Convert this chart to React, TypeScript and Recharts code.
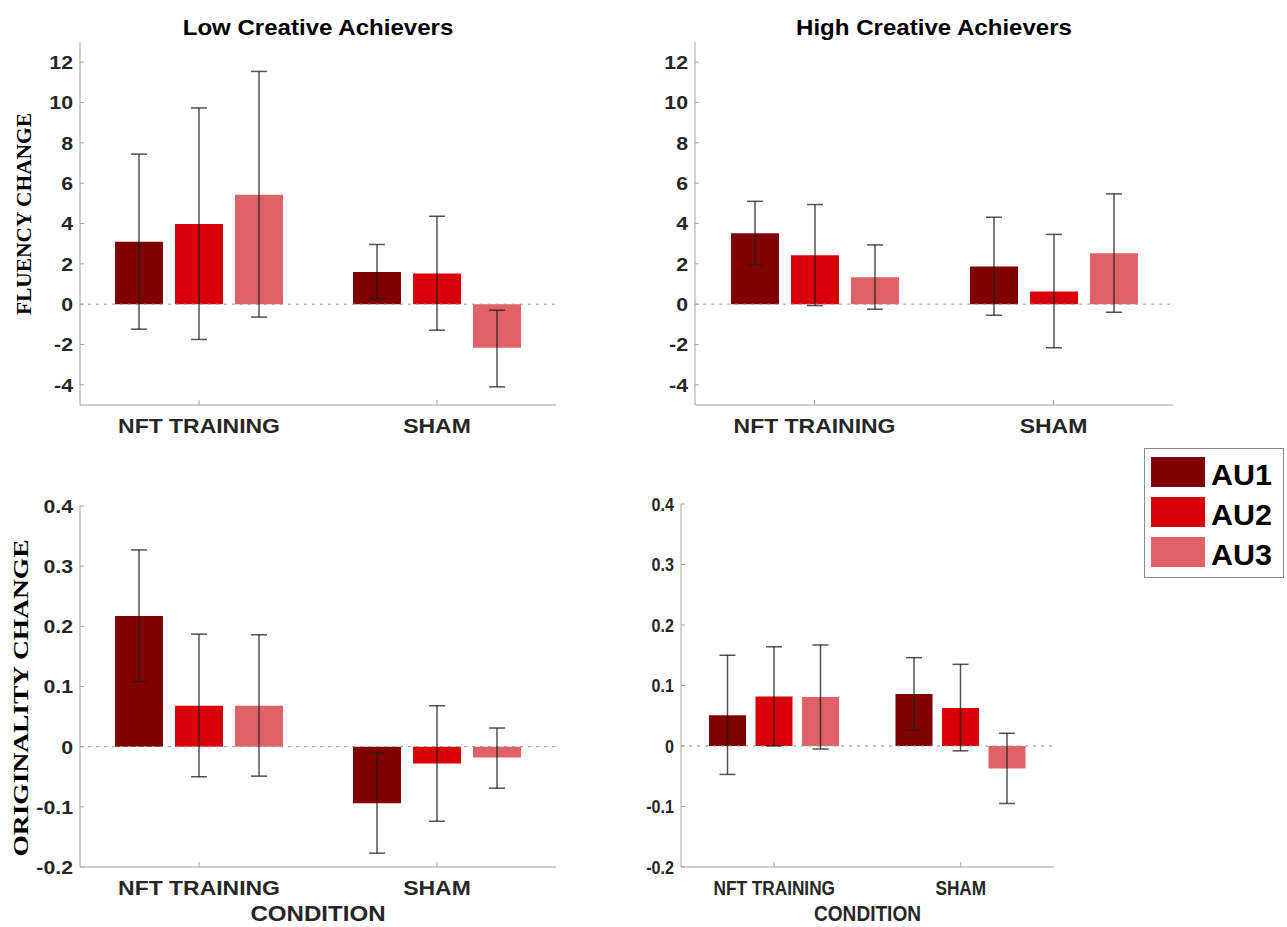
import React from 'react';
import { BarChart, Bar, XAxis, YAxis, ErrorBar, ReferenceLine, Legend } from 'recharts';

// ---------- data ----------
const conditions = ['NFT TRAINING', 'SHAM'];
const seriesNames = ['AU1', 'AU2', 'AU3'];
const seriesColors = ['#800000', '#D90008', '#E06266'];

const fluencyTicks = [-4, -2, 0, 2, 4, 6, 8, 10, 12];
const fluencyDomain = [-5, 13];
const originalityTicks = [-0.2, -0.1, 0, 0.1, 0.2, 0.3, 0.4];
const originalityDomain = [-0.2, 0.4];

// rows: AU1, AU2, AU3 ; columns: NFT TRAINING, SHAM
const fluLowMean = [[3.09, 1.6], [3.97, 1.52], [5.42, -2.16]];
const fluLowLower = [[-1.24, 0.28], [-1.75, -1.29], [-0.64, -4.1]];
const fluLowUpper = [[7.44, 2.96], [9.73, 4.36], [11.54, -0.3]];

const fluHighMean = [[3.52, 1.87], [2.43, 0.63], [1.34, 2.52]];
const fluHighLower = [[1.93, -0.55], [-0.07, -2.16], [-0.25, -0.4]];
const fluHighUpper = [[5.1, 4.31], [4.94, 3.46], [2.94, 5.47]];

const origLowMean = [[0.217, -0.094], [0.068, -0.028], [0.068, -0.018]];
const origLowLower = [[0.108, -0.177], [-0.05, -0.124], [-0.049, -0.069]];
const origLowUpper = [[0.327, -0.011], [0.187, 0.068], [0.186, 0.031]];

const origHighMean = [[0.051, 0.086], [0.082, 0.063], [0.081, -0.037]];
const origHighLower = [[-0.047, 0.026], [0.0, -0.008], [-0.005, -0.095]];
const origHighUpper = [[0.15, 0.146], [0.164, 0.135], [0.167, 0.021]];

const panelTitles = ['Low Creative Achievers', 'High Creative Achievers'];
const yTitles = ['FLUENCY CHANGE', 'ORIGINALITY CHANGE'];
const xTitle = 'CONDITION';

// ---------- helpers ----------
const SANS = "'Liberation Sans', Arial, Helvetica, sans-serif";
const SERIF = "'Liberation Serif', 'Times New Roman', serif";
const AXIS = '#a3a3a3';
const TICKTXT = '#262626';

function buildRows(mean: number[][], lower: number[][], upper: number[][]) {
  return conditions.map((c, j) => {
    const row: any = { cond: c };
    seriesNames.forEach((s, i) => {
      row[s] = mean[i][j];
      row['err' + s] = [mean[i][j] - lower[i][j], upper[i][j] - mean[i][j]];
    });
    return row;
  });
}

const fmt = (v: number) => String(Math.round(v * 1000) / 1000);

const makeYTick = (sx: number) => (props: any) => {
  const { x, y, payload } = props;
  return (
    <g>
      <line x1={x} y1={y} x2={x + 4} y2={y} stroke={AXIS} strokeWidth={1} />
      <g transform={`translate(${x - 7},${y}) scale(${sx},1)`}>
        <text x={0} y={0} dy="0.36em" textAnchor="end" fontSize={19} fontWeight="bold" fill={TICKTXT} fontFamily={SANS}>
          {fmt(payload.value)}
        </text>
      </g>
    </g>
  );
};

const makeXTick = (sx: number) => (props: any) => {
  const { x, y, payload } = props;
  return (
    <g>
      <line x1={x} y1={y} x2={x} y2={y - 5} stroke={AXIS} strokeWidth={1} />
      <g transform={`translate(${x},${y + 28}) scale(${sx},1)`}>
        <text x={0} y={0} textAnchor="middle" fontSize={20.5} fontWeight="bold" fill={TICKTXT} fontFamily={SANS}>
          {payload.value}
        </text>
      </g>
    </g>
  );
};

const renderLegend = (props: any) => {
  const payload = props.payload || [];
  return (
    <svg width={140} height={130} style={{ display: 'block' }}>
      <rect x={0.5} y={0.5} width={139} height={129} fill="#fff" stroke="#8c8c8c" strokeWidth={1} />
      {payload.map((p: any, i: number) => (
        <g key={p.value}>
          <rect x={7} y={9 + i * 40} width={54} height={30} fill={p.color} />
          <g transform={`translate(67,${37 + i * 40}) scale(1.05,1)`}>
            <text x={0} y={0} fontSize={29} fontWeight="bold" fill="#000" fontFamily={SANS}>
              {p.value}
            </text>
          </g>
        </g>
      ))}
    </svg>
  );
};

type PanelProps = {
  rows: any[];
  left: number;
  top: number;
  width: number;
  height: number;
  margin: any;
  xAxisHeight: number;
  domain: number[];
  ticks: number[];
  ySx: number;
  xSx: number;
  barSize: number;
  barGap: number;
  title?: { text: string; x: number; y: number };
  yLabel?: { text: string; x: number; y: number; len: number; fs: number };
  xLabel?: { text: string; x: number; y: number; sx: number };
  legend?: boolean;
};

function Panel(p: PanelProps) {
  const yLabelFn = () => (
    <g>
      {p.title && (
        <g transform={`translate(${p.title.x},${p.title.y}) scale(1.12,1)`}>
          <text x={0} y={0} textAnchor="middle" fontSize={21.5} fontWeight="bold" fill="#000" fontFamily={SANS}>
            {p.title.text}
          </text>
        </g>
      )}
      {p.yLabel && (
        <text
          x={p.yLabel.x}
          y={p.yLabel.y}
          transform={`rotate(-90 ${p.yLabel.x} ${p.yLabel.y})`}
          textAnchor="middle"
          dy="0.35em"
          fontSize={p.yLabel.fs}
          fontWeight="bold"
          fill="#000"
          fontFamily={SERIF}
          textLength={p.yLabel.len}
          lengthAdjust="spacingAndGlyphs"
        >
          {p.yLabel.text}
        </text>
      )}
    </g>
  );
  const xLabelFn = () =>
    p.xLabel ? (
      <g transform={`translate(${p.xLabel.x},${p.xLabel.y}) scale(${p.xLabel.sx},1)`}>
        <text x={0} y={0} textAnchor="middle" fontSize={21.5} fontWeight="bold" fill={TICKTXT} fontFamily={SANS}>
          {p.xLabel.text}
        </text>
      </g>
    ) : null;

  return (
    <div style={{ position: 'absolute', left: p.left, top: p.top, width: p.width, height: p.height }}>
      <BarChart width={p.width} height={p.height} data={p.rows} margin={p.margin} barGap={p.barGap}>
        <XAxis
          dataKey="cond"
          type="category"
          height={p.xAxisHeight}
          stroke={AXIS}
          tickLine={false}
          tickSize={0}
          tickMargin={0}
          interval={0}
          tick={makeXTick(p.xSx)}
          label={xLabelFn}
        />
        <YAxis
          type="number"
          width={60}
          domain={p.domain}
          ticks={p.ticks}
          allowDataOverflow
          stroke={AXIS}
          tickLine={false}
          tickSize={0}
          tickMargin={0}
          interval={0}
          tick={makeYTick(p.ySx)}
          label={yLabelFn}
        />
        <ReferenceLine y={0} stroke="#9a9a9a" strokeDasharray="3 5" strokeWidth={1} />
        {seriesNames.map((s, i) => (
          <Bar key={s} dataKey={s} name={s} fill={seriesColors[i]} barSize={p.barSize} isAnimationActive={false}>
            <ErrorBar
              dataKey={'err' + s}
              direction="y"
              width={8}
              stroke="#1a1a1a"
              strokeOpacity={0.75}
              strokeWidth={1.5}
              isAnimationActive={false}
            />
          </Bar>
        ))}
        {p.legend && (
          <Legend
            content={renderLegend}
            layout="horizontal"
            verticalAlign="middle"
            align="center"
            wrapperStyle={{ position: 'absolute', left: 1144 - p.left, top: 448 - p.top, width: 140, height: 130, margin: 0, padding: 0 }}
          />
        )}
      </BarChart>
    </div>
  );
}

export default function App() {
  const fluLowRows = buildRows(fluLowMean, fluLowLower, fluLowUpper);
  const fluHighRows = buildRows(fluHighMean, fluHighLower, fluHighUpper);
  const origLowRows = buildRows(origLowMean, origLowLower, origLowUpper);
  const origHighRows = buildRows(origHighMean, origHighLower, origHighUpper);

  return (
    <div style={{ position: 'absolute', left: 0, top: 0, width: 1287, height: 927, background: '#fff', overflow: 'hidden' }}>
      <Panel
        rows={fluLowRows}
        left={0}
        top={0}
        width={580}
        height={440}
        margin={{ top: 42, right: 24, bottom: 5, left: 20 }}
        xAxisHeight={30}
        domain={fluencyDomain}
        ticks={fluencyTicks}
        ySx={1.12}
        xSx={1.12}
        barSize={48}
        barGap={12}
        title={{ text: panelTitles[0], x: 318, y: 35 }}
        yLabel={{ text: yTitles[0], x: 24, y: 214, len: 202, fs: 21 }}
      />
      <Panel
        rows={fluHighRows}
        left={615}
        top={0}
        width={580}
        height={440}
        margin={{ top: 42, right: 22, bottom: 5, left: 20 }}
        xAxisHeight={30}
        domain={fluencyDomain}
        ticks={fluencyTicks}
        ySx={1.12}
        xSx={1.12}
        barSize={48}
        barGap={12}
        title={{ text: panelTitles[1], x: 319, y: 35 }}
      />
      <Panel
        rows={origLowRows}
        left={0}
        top={460}
        width={580}
        height={467}
        margin={{ top: 46, right: 24, bottom: 0, left: 20 }}
        xAxisHeight={60}
        domain={originalityDomain}
        ticks={originalityTicks}
        ySx={1.12}
        xSx={1.12}
        barSize={48}
        barGap={12}
        yLabel={{ text: yTitles[1], x: 21, y: 238, len: 317, fs: 20 }}
        xLabel={{ text: xTitle, x: 318, y: 461, sx: 1.12 }}
      />
      <Panel
        rows={origHighRows}
        left={600}
        top={460}
        width={480}
        height={467}
        margin={{ top: 44, right: 26, bottom: 0, left: 21 }}
        xAxisHeight={60}
        domain={originalityDomain}
        ticks={originalityTicks}
        ySx={0.85}
        xSx={0.84}
        barSize={37}
        barGap={9.5}
        xLabel={{ text: xTitle, x: 267.5, y: 461, sx: 0.887 }}
        legend
      />
    </div>
  );
}
